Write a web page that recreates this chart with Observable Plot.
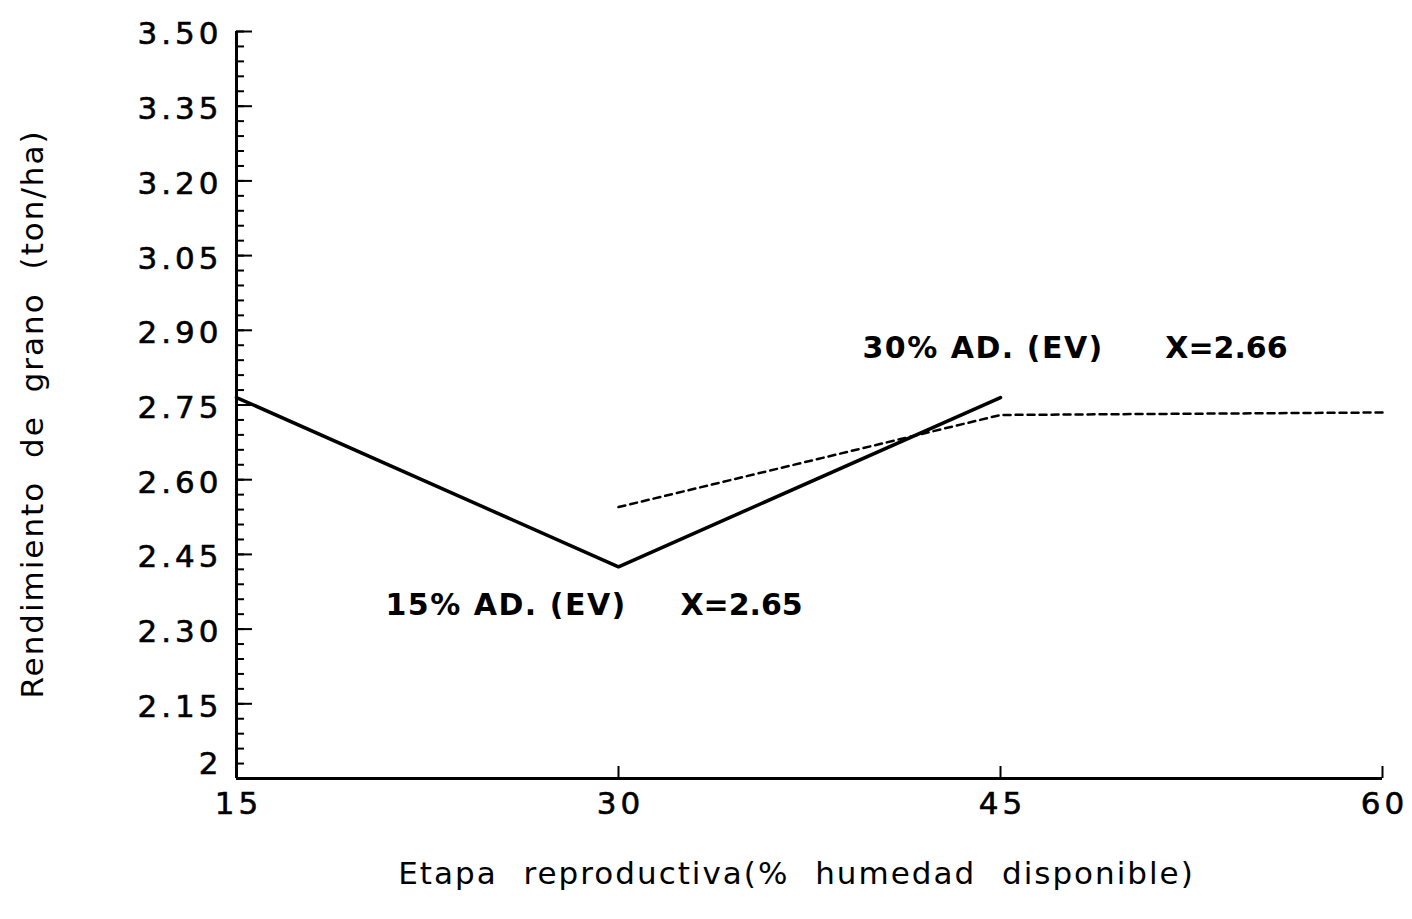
<!DOCTYPE html>
<html><head><meta charset="utf-8">
<script src="https://cdn.jsdelivr.net/npm/d3@7"></script>
<script src="https://cdn.jsdelivr.net/npm/@observablehq/plot@0.6"></script>
<style>
body{margin:0;background:#fff}
</style>
</head><body><div id="chart"></div>
<script>
// x categories: reproductive stage (% available moisture)
const etapa = [15, 30, 45, 60];
// series 15% AD (EV)
const x15 = [15, 30, 45];
const rend15 = [2.765, 2.425, 2.765];
// series 30% AD (EV)
const x30 = [30, 45, 60];
const rend30 = [2.545, 2.73, 2.735];
// y tick values and labels
const yTicks = [2, 2.15, 2.3, 2.45, 2.6, 2.75, 2.9, 3.05, 3.2, 3.35, 3.5];
const yTickLabels = ["2", "2.15", "2.30", "2.45", "2.60", "2.75", "2.90", "3.05", "3.20", "3.35", "3.50"];
const yMinor = d3.range(0, 51).map(i => +(2 + i * 0.03).toFixed(2));
const annotLabels = ["15% AD. (EV)", "30% AD. (EV)"];
const annotMeans = ["X=2.65", "X=2.66"];
const xTitle = "Etapa reproductiva(% humedad disponible)";
const yTitle = "Rendimiento de grano (ton/ha)";

const s15 = x15.map((x, i) => ({x, y: rend15[i]}));
const s30 = x30.map((x, i) => ({x, y: rend30[i]}));
const fmtY = d => yTickLabels[yTicks.indexOf(d)];

const chart = Plot.plot({
  width: 1412, height: 919,
  marginLeft: 236, marginRight: 30, marginTop: 31, marginBottom: 141,
  x: {domain: [15, 60]},
  y: {domain: [2, 3.5]},
  style: {fontFamily: "DejaVu Sans", color: "black", background: "white"},
  marks: [
    Plot.axisY(yMinor, {tickSize: -8, text: null, strokeWidth: 2, label: null}),
    Plot.axisY(yTicks, {tickSize: -16, text: null, strokeWidth: 2, label: null}),
    Plot.axisY(yTicks.slice(1), {tickSize: 0, tickPadding: 14, dy: 3, tickFormat: fmtY, fontSize: 31, label: null}),
    Plot.axisY(yTicks.slice(0, 1), {tickSize: 0, tickPadding: 14, dy: -14, tickFormat: fmtY, fontSize: 31, label: null}),
    Plot.axisX(etapa, {tickSize: -12, text: null, strokeWidth: 2, label: null}),
    Plot.axisX(etapa, {tickSize: 0, tickPadding: 13, dx: 2, fontSize: 31, label: null}),
    Plot.ruleX([15], {strokeWidth: 3}),
    Plot.ruleY([2], {strokeWidth: 3}),
    Plot.line(s15, {x: "x", y: "y", strokeWidth: 3.5, stroke: "black"}),
    Plot.line(s30, {x: "x", y: "y", strokeWidth: 2.5, stroke: "black", strokeDasharray: "7,5"}),
    Plot.text([annotLabels[0]], {x: 20.85, y: 2.347, text: d => d, textAnchor: "start", fontSize: 30, fontWeight: "bold"}),
    Plot.text([annotMeans[0]], {x: 32.43, y: 2.347, text: d => d, textAnchor: "start", fontSize: 30, fontWeight: "bold"}),
    Plot.text([annotLabels[1]], {x: 39.58, y: 2.863, text: d => d, textAnchor: "start", fontSize: 30, fontWeight: "bold"}),
    Plot.text([annotMeans[1]], {x: 51.47, y: 2.863, text: d => d, textAnchor: "start", fontSize: 30, fontWeight: "bold"}),
    Plot.text([xTitle], {frameAnchor: "bottom", dx: -13, dy: 105, text: d => d, fontSize: 31}),
    Plot.text([yTitle], {frameAnchor: "left", textAnchor: "middle", rotate: -90, dx: -203, dy: 9, text: d => d, fontSize: 31})
  ]
});
// fine text spacing, applied as SVG attributes
d3.select(chart).selectAll("text").each(function () {
  const t = this.textContent;
  const el = d3.select(this);
  if (t === xTitle) {
    el.attr("letter-spacing", 2).attr("word-spacing", 14);
  } else if (t === yTitle) {
    el.attr("letter-spacing", 2).attr("word-spacing", 11);
  } else if (yTickLabels.includes(t) || etapa.map(String).includes(t)) {
    el.attr("letter-spacing", 4).attr("stroke", "black").attr("stroke-width", 0.6);
  } else if (annotLabels.includes(t)) {
    el.attr("letter-spacing", 1.5);
  }
});
document.getElementById("chart").appendChild(chart);
</script>
</body></html>
